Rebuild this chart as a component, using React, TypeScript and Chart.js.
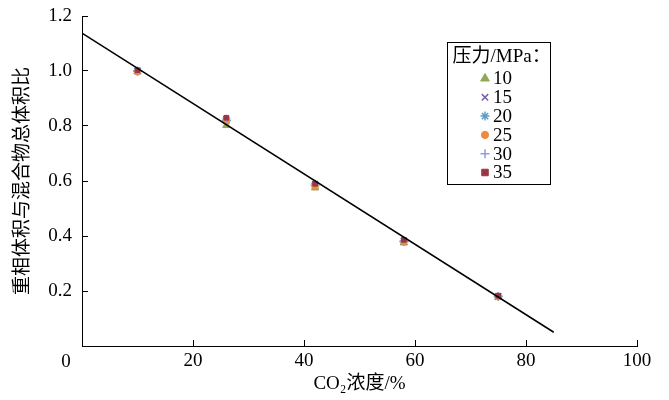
import React, { useEffect, useRef } from "react";
import { Chart, registerables } from "chart.js";
import * as helpers from "chart.js/helpers";

Chart.register(...registerables);

const concentrations = [10, 26, 42, 58, 75];
const pressureLabels = ["10", "15", "20", "25", "30", "35"];
const p10 = [0.998, 0.802, 0.575, 0.375, 0.177];
const p15 = [1.0, 0.825, 0.59, 0.382, 0.182];
const p20 = [1.0, 0.82, 0.585, 0.38, 0.18];
const p25 = [0.997, 0.818, 0.58, 0.378, 0.179];
const p30 = [1.0, 0.826, 0.59, 0.383, 0.182];
const p35 = [1.003, 0.83, 0.59, 0.386, 0.183];
const fitX = [0, 85];
const fitY = [1.138, 0.05];
const xTicks = [0, 20, 40, 60, 80, 100];
const yTicks = [0, 0.2, 0.4, 0.6, 0.8, 1.0, 1.2];

const seriesValues = [p10, p15, p20, p25, p30, p35];
const seriesColors = ["#8FAA55", "#7A5FA6", "#5E9CC8", "#F08A3E", "#8E9FD8", "#9A3644"];
const seriesStyles = ["triangle", "crossRot", "star", "circle", "cross", "rect"];
const legendRadius = [5, 4.5, 4.5, 3.6, 4.5, 4.6];
const plotRadius = [4.2, 4, 4.6, 3.3, 4, 3.3];

const FONT = "'Liberation Serif', 'Times New Roman', 'Noto Sans CJK SC', serif";

const overlayPlugin = {
  id: "overlay",
  afterDraw(chart: any) {
    const ctx = chart.ctx;
    const xs = chart.scales.x;
    const ys = chart.scales.y;
    const ca = chart.chartArea;
    ctx.save();
    ctx.font = `19px ${FONT}`;
    ctx.fillStyle = "#000";
    ctx.textAlign = "center";
    ctx.textBaseline = "middle";
    ctx.fillText("0", xs.getPixelForValue(0) - 16, ys.getPixelForValue(0) + 16);

    const bx = ca.left + 365.5;
    const by = ca.top + 26.5;
    ctx.strokeStyle = "#000";
    ctx.lineWidth = 1;
    ctx.strokeRect(bx, by, 103, 142);
    ctx.textAlign = "left";
    ctx.fillText("压力/MPa：", bx + 5, by + 15);
    for (let i = 0; i < pressureLabels.length; i++) {
      const cy = by + 36 + i * 18.8;
      ctx.fillStyle = seriesColors[i];
      ctx.strokeStyle = seriesColors[i];
      const st = seriesStyles[i];
      ctx.lineWidth = st === "cross" || st === "crossRot" || st === "star" ? 1.5 : 1;
      (helpers as any).drawPoint(
        ctx,
        { pointStyle: st, rotation: 0, radius: legendRadius[i], borderWidth: ctx.lineWidth },
        bx + 37.5,
        cy
      );
      ctx.fillStyle = "#000";
      ctx.fillText(pressureLabels[i], bx + 45.5, cy + 1);
    }
    ctx.restore();
  },
};

export default function App() {
  const ref = useRef<HTMLCanvasElement | null>(null);
  useEffect(() => {
    if (!ref.current) return;
    const datasets: any[] = [
      {
        type: "line",
        label: "fit",
        data: fitX.map((x, i) => ({ x, y: fitY[i] })),
        borderColor: "#000",
        borderWidth: 1.5,
        pointRadius: 0,
        fill: false,
        showLine: true,
        order: 0,
      },
    ];
    seriesValues.forEach((vals, i) => {
      const st = seriesStyles[i];
      const thin = st === "cross" || st === "crossRot" || st === "star";
      datasets.push({
        type: "scatter",
        label: pressureLabels[i],
        data: concentrations.map((x, j) => ({ x, y: vals[j] })),
        pointStyle: st,
        pointRadius: plotRadius[i],
        pointBorderWidth: thin ? 1.4 : 1,
        backgroundColor: seriesColors[i],
        borderColor: seriesColors[i],
        showLine: false,
        order: seriesValues.length - i,
      });
    });
    const chart = new Chart(ref.current, {
      type: "scatter",
      data: { datasets },
      plugins: [overlayPlugin],
      options: {
        responsive: false,
        animation: false,
        layout: { padding: { top: 16, right: 32, left: 0, bottom: 0 } },
        plugins: { legend: { display: false }, tooltip: { enabled: false } },
        scales: {
          x: {
            type: "linear",
            min: 0,
            max: 100,
            afterFit: (s: any) => {
              s.height = 54;
              s.paddingLeft = 0;
              s.paddingRight = 0;
            },
            afterBuildTicks: (s: any) => {
              s.ticks = xTicks.map((v) => ({ value: v }));
            },
            ticks: {
              color: "#000",
              font: { family: FONT, size: 19 },
              padding: 10,
              maxRotation: 0,
              callback: (v: any) => (Number(v) === 0 ? "" : String(v)),
            },
            grid: { drawOnChartArea: false, tickLength: -6, color: "#000", tickColor: "#000" },
            border: { color: "#000", width: 1 },
            title: {
              display: true,
              text: "CO₂浓度/%",
              color: "#000",
              font: { family: FONT, size: 19 },
              padding: { top: 0, bottom: 5 },
            },
          },
          y: {
            type: "linear",
            min: 0,
            max: 1.2,
            afterFit: (s: any) => {
              s.width = 82;
              s.paddingTop = 0;
              s.paddingBottom = 0;
            },
            afterBuildTicks: (s: any) => {
              s.ticks = yTicks.map((v) => ({ value: v }));
            },
            ticks: {
              color: "#000",
              font: { family: FONT, size: 19 },
              padding: 16,
              callback: (v: any) => (Number(v) === 0 ? "" : Number(v).toFixed(1)),
            },
            grid: { drawOnChartArea: false, tickLength: -6, color: "#000", tickColor: "#000" },
            border: { color: "#000", width: 1 },
            title: {
              display: true,
              text: "重相体积与混合物总体积比",
              color: "#000",
              font: { family: FONT, size: 19 },
              padding: { top: 12, bottom: 0 },
            },
          },
        },
      },
    } as any);
    return () => chart.destroy();
  }, []);
  return (
    <div style={{ position: "absolute", left: 0, top: 0, width: 669, height: 400, background: "#fff" }}>
      <canvas ref={ref} width={669} height={400} style={{ display: "block" }} />
    </div>
  );
}
